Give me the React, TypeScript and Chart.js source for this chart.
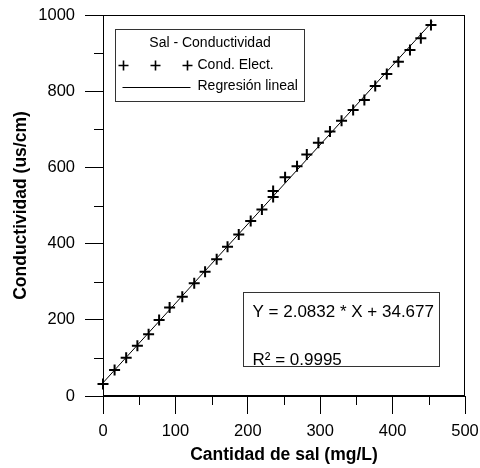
import React, { useEffect, useRef } from 'react';
import { Chart, registerables } from 'chart.js';

Chart.register(...registerables);

// ---- data ----
const saltMgL = [0, 16, 32, 47.5, 63, 77.5, 92, 109.5, 126, 141, 157, 172, 187.5, 204, 219.5, 235, 235, 251.5, 268, 281.5, 297.5, 313.5, 329.5, 345.5, 361, 376, 392, 408, 424, 439, 453];
const conductivity = [31.5, 68, 100.5, 132, 162, 199.5, 232, 260.5, 296, 326, 359, 392, 424, 459, 489.5, 522, 538, 574, 603, 634, 665, 694, 722.5, 750.5, 777, 813.5, 845, 877.5, 908, 939, 974];
const regressionX = [0, 455];
const regressionY = [34.68, 982.53];

const xTickStep = 100;
const xMinorTicks = [50, 150, 250, 350, 450];
const yTickStep = 200;
const yMinorTicks = [100, 300, 500, 700, 900];

const legendTitle = 'Sal - Conductividad';
const seriesLabels = ['Cond. Elect.', 'Regresión lineal'];
const equationLines = ['Y = 2.0832 * X + 34.677', 'R² = 0.9995'];
const xTitle = 'Cantidad de sal (mg/L)';
const yTitle = 'Conductividad (us/cm)';

const FONT = "'Liberation Sans', Arial, sans-serif";

function drawCross(ctx: CanvasRenderingContext2D, x: number, y: number, r: number) {
  ctx.beginPath();
  ctx.moveTo(x - r, y);
  ctx.lineTo(x + r, y);
  ctx.moveTo(x, y - r);
  ctx.lineTo(x, y + r);
  ctx.stroke();
}

const overlayPlugin = {
  id: 'overlay',
  afterDraw(chart: any) {
    const { ctx, chartArea: ca, scales } = chart;
    const xs = scales.x;
    const ys = scales.y;
    ctx.save();
    // frame
    ctx.strokeStyle = '#000';
    ctx.lineWidth = 1;
    ctx.strokeRect(Math.round(ca.left) + 0.5, Math.round(ca.top) + 0.5, Math.round(ca.right - ca.left) - 1, Math.round(ca.bottom - ca.top) - 1);
    // minor ticks
    ctx.beginPath();
    xMinorTicks.forEach((v) => {
      const px = Math.round(xs.getPixelForValue(v)) + 0.5;
      ctx.moveTo(px, ca.bottom);
      ctx.lineTo(px, ca.bottom + 9);
    });
    yMinorTicks.forEach((v) => {
      const py = Math.round(ys.getPixelForValue(v)) + 0.5;
      ctx.moveTo(ca.left - 9, py);
      ctx.lineTo(ca.left, py);
    });
    ctx.stroke();

    // legend box
    const lx = ca.left + 12.5;
    const ly = ca.top + 14.5;
    const lw = 189;
    const lh = 72;
    ctx.fillStyle = '#fff';
    ctx.fillRect(lx, ly, lw, lh);
    ctx.strokeStyle = '#333';
    ctx.strokeRect(lx, ly, lw, lh);
    ctx.fillStyle = '#000';
    ctx.font = `14px ${FONT}`;
    ctx.textBaseline = 'middle';
    ctx.textAlign = 'center';
    ctx.fillText(legendTitle, lx + lw / 2, ly + 14);
    ctx.textAlign = 'left';
    ctx.strokeStyle = '#000';
    ctx.lineWidth = 1.6;
    [8, 40, 72].forEach((dx) => drawCross(ctx, lx + dx, ly + 36, 5));
    ctx.fillText(seriesLabels[0], lx + 82, ly + 36);
    ctx.lineWidth = 1;
    ctx.beginPath();
    ctx.moveTo(lx + 7, Math.round(ly + 57) + 0.5);
    ctx.lineTo(lx + 75, Math.round(ly + 57) + 0.5);
    ctx.stroke();
    ctx.fillText(seriesLabels[1], lx + 82, ly + 57);

    // equation box
    const ex = ca.left + 140.5;
    const ey = ca.top + 277.5;
    const ew = 196;
    const eh = 74;
    ctx.fillStyle = '#fff';
    ctx.fillRect(ex, ey, ew, eh);
    ctx.strokeStyle = '#333';
    ctx.strokeRect(ex, ey, ew, eh);
    ctx.fillStyle = '#000';
    ctx.font = `17px ${FONT}`;
    ctx.textBaseline = 'alphabetic';
    ctx.fillText(equationLines[0], ex + 9, ey + 24.5);
    ctx.fillText(equationLines[1], ex + 9, ey + 72.5);
    ctx.restore();
  },
};

export default function App() {
  const ref = useRef<HTMLCanvasElement | null>(null);
  useEffect(() => {
    if (!ref.current) return;
    const chart = new Chart(ref.current, {
      type: 'scatter',
      data: {
        datasets: [
          {
            label: seriesLabels[1],
            data: regressionX.map((x, i) => ({ x, y: regressionY[i] })),
            showLine: true,
            borderColor: '#000',
            borderWidth: 1,
            pointRadius: 0,
            fill: false,
          },
          {
            label: seriesLabels[0],
            data: saltMgL.map((x, i) => ({ x, y: conductivity[i] })),
            pointStyle: 'cross',
            pointRadius: 5.5,
            borderColor: '#000',
            backgroundColor: '#000',
            borderWidth: 2,
            clip: false,
          } as any,
        ],
      },
      options: {
        animation: false,
        responsive: false,
        maintainAspectRatio: false,
        devicePixelRatio: 1,
        layout: { padding: { top: 15, right: 15, left: 0, bottom: 0 } },
        plugins: { legend: { display: false }, tooltip: { enabled: false } },
        scales: {
          x: {
            type: 'linear',
            min: 0,
            max: 500,
            ticks: { stepSize: xTickStep, color: '#000', font: { family: FONT, size: 16.5 }, padding: 8, maxRotation: 0, callback: (v: any) => String(v) },
            grid: { drawOnChartArea: false, tickLength: 18, tickColor: '#000', tickWidth: 1 },
            border: { color: '#000', width: 1 },
            title: { display: true, text: xTitle, color: '#000', font: { family: FONT, size: 17.5, weight: 'bold' }, padding: { top: 0, bottom: 2 } },
            afterFit: (s: any) => { s.height = 72; s.paddingLeft = 0; s.paddingRight = 0; },
          },
          y: {
            type: 'linear',
            min: 0,
            max: 1000,
            ticks: { stepSize: yTickStep, color: '#000', font: { family: FONT, size: 16.5 }, padding: 10, callback: (v: any) => String(v) },
            grid: { drawOnChartArea: false, tickLength: 18, tickColor: '#000', tickWidth: 1 },
            border: { color: '#000', width: 1 },
            title: { display: true, text: yTitle, color: '#000', font: { family: FONT, size: 17.5, weight: 'bold' }, padding: { top: 11, bottom: 0 } },
            afterFit: (s: any) => { s.width = 103; s.paddingTop = 0; s.paddingBottom = 0; },
          },
        },
      } as any,
      plugins: [overlayPlugin],
    });
    return () => chart.destroy();
  }, []);
  return (
    <div style={{ position: 'fixed', left: 0, top: 0, width: 480, height: 468, background: '#fff' }}>
      <canvas ref={ref} width={480} height={468} style={{ width: 480, height: 468, display: 'block' }} />
    </div>
  );
}
